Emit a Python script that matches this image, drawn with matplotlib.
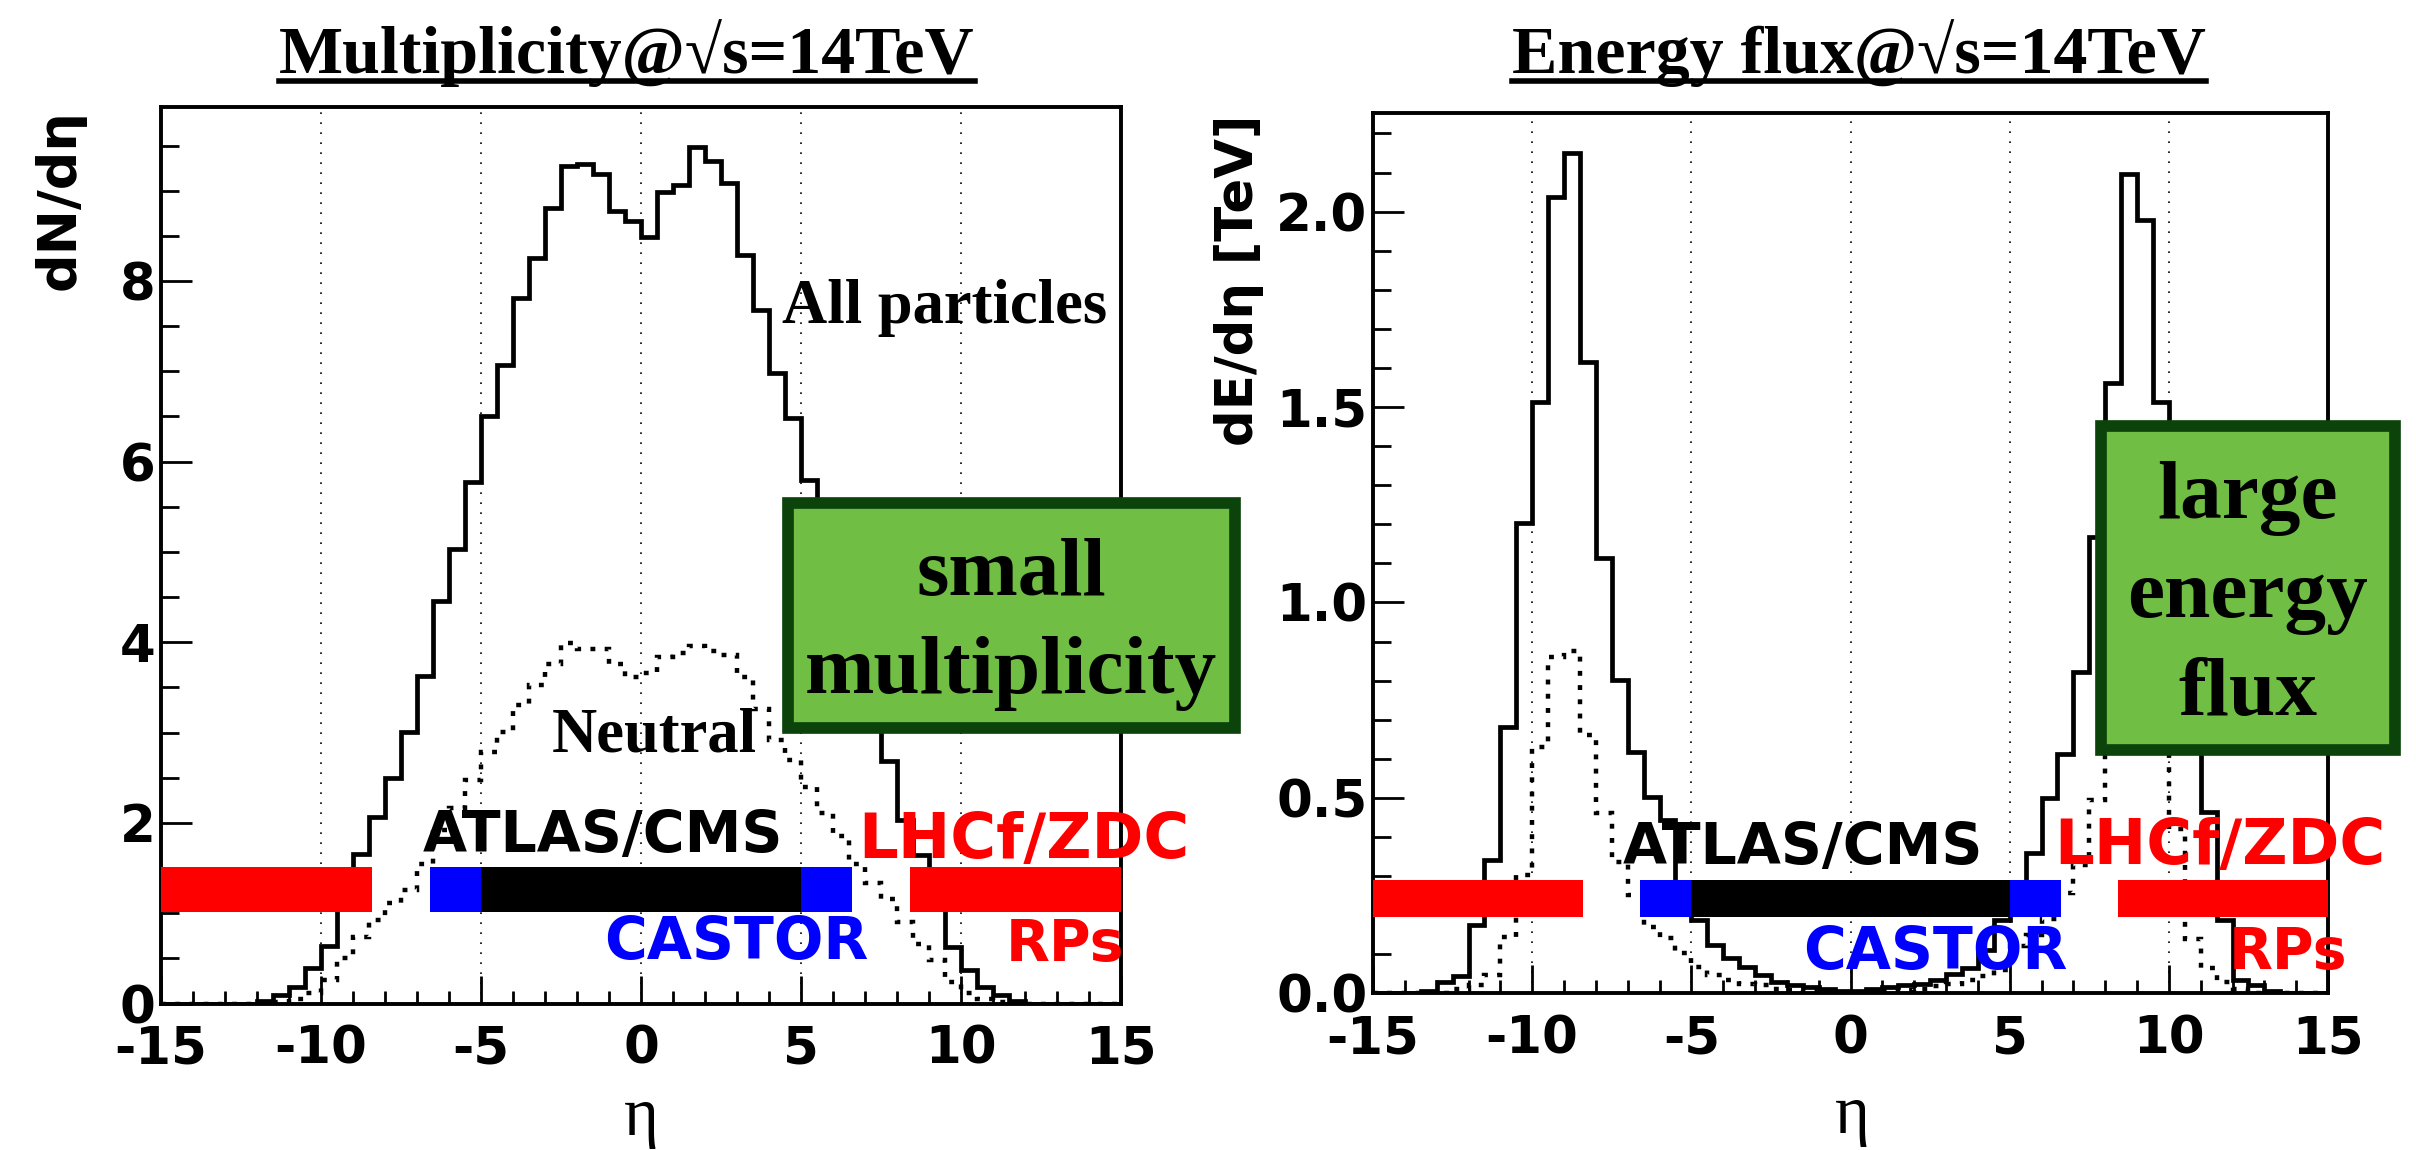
import matplotlib
matplotlib.use('Agg')
import matplotlib.pyplot as plt
import numpy as np
from matplotlib.patches import Rectangle
from matplotlib.lines import Line2D
from matplotlib.ticker import MultipleLocator, FormatStrFormatter

# eta binning: 60 bins of 0.5 from -15 to 15
eta_edges = np.linspace(-15, 15, 61)

# dN/deta, all particles and neutral (left panel), one value per bin
mult_all = [0, 0, 0, 0, 0, 0,
            0.03, 0.09, 0.18, 0.39, 0.64, 1.2, 1.66, 2.07, 2.50, 3.01, 3.63, 4.46, 5.03, 5.77,
            6.51, 7.07, 7.81, 8.26, 8.81, 9.27, 9.30, 9.19, 8.77, 8.66,
            8.49, 8.98, 9.06, 9.48, 9.33, 9.09, 8.29, 7.68, 6.98, 6.48,
            5.8, 5.2, 4.5, 3.8, 3.2, 2.68, 2.03, 1.64, 1.1, 0.63,
            0.37, 0.18, 0.09, 0.03, 0, 0, 0, 0, 0, 0]
mult_neutral = [0, 0, 0, 0, 0, 0, 0,
                0.02, 0.05, 0.12, 0.26, 0.50, 0.74, 0.92, 1.11, 1.26, 1.55, 1.92, 2.17, 2.48,
                2.79, 3.01, 3.31, 3.53, 3.76, 3.99, 3.93, 3.93, 3.76, 3.61,
                3.66, 3.84, 3.88, 3.96, 3.90, 3.86, 3.61, 3.26, 2.92, 2.70,
                2.40, 2.11, 1.85, 1.55, 1.33, 1.16, 0.90, 0.66, 0.48, 0.24,
                0.12, 0.05, 0.02, 0, 0, 0, 0, 0, 0, 0]

# dE/deta [TeV], all particles and neutral (right panel)
eflux_all = [0, 0, 0, 0.005, 0.030, 0.043, 0.175, 0.341, 0.682, 1.204,
             1.514, 2.037, 2.149, 1.614, 1.113, 0.802, 0.617, 0.503, 0.443, 0.27,
             0.188, 0.124, 0.090, 0.068, 0.047, 0.030, 0.021, 0.015, 0.010, 0.005,
             0.005, 0.010, 0.015, 0.020, 0.025, 0.035, 0.050, 0.064, 0.110, 0.188,
             0.25, 0.358, 0.499, 0.612, 0.823, 1.168, 1.562, 2.097, 1.979, 1.514,
             1.15, 0.70, 0.465, 0.188, 0.034, 0.020, 0.005, 0, 0, 0]
eflux_neutral = [0, 0, 0, 0, 0, 0.01, 0.02, 0.047, 0.145, 0.303,
                 0.631, 0.86, 0.875, 0.661, 0.461, 0.337, 0.252, 0.170, 0.141, 0.102,
                 0.068, 0.047, 0.035, 0.025, 0.020, 0.012, 0.008, 0.005, 0.003, 0.002,
                 0.002, 0.003, 0.005, 0.008, 0.012, 0.018, 0.025, 0.035, 0.045, 0.06,
                 0.12, 0.15, 0.19, 0.256, 0.328, 0.495, 0.68, 0.87, 0.86, 0.65,
                 0.42, 0.14, 0.064, 0.03, 0.01, 0, 0, 0, 0, 0]

# detector acceptance in eta
det_lo = np.array([-15, -6.6, -5, 5, 8.4])
det_hi = np.array([-8.4, -5, 5, 6.6, 15])
det_colors = ['red', 'blue', 'black', 'blue', 'red']

plt.rcParams['axes.unicode_minus'] = False
plt.rcParams['font.family'] = 'DejaVu Sans'
plt.rcParams['font.weight'] = 'bold'
serif = ['Liberation Serif', 'DejaVu Serif']

W, H = 2416, 1150
fig = plt.figure(figsize=(W / 100, H / 100), dpi=100)

ax1 = fig.add_axes([161 / W, 1 - 1003.5 / H, 960 / W, (1003.5 - 106.7) / H])
ax2 = fig.add_axes([1373 / W, 1 - 993.3 / H, 955 / W, (993.3 - 112.7) / H])


def style_axes(ax, ymax, ymajor, yminor, fmt):
    ax.set_xlim(-15, 15)
    ax.set_ylim(0, ymax)
    ax.xaxis.set_major_locator(MultipleLocator(5))
    ax.xaxis.set_minor_locator(MultipleLocator(1))
    ax.yaxis.set_major_locator(MultipleLocator(ymajor))
    ax.yaxis.set_minor_locator(MultipleLocator(yminor))
    ax.yaxis.set_major_formatter(FormatStrFormatter(fmt))
    ax.tick_params(which='both', direction='in', top=False, right=False,
                   width=2, labelsize=37)
    ax.tick_params(axis='x', which='major', length=20, pad=15)
    ax.tick_params(axis='x', which='minor', length=9.5)
    ax.tick_params(axis='y', which='major', length=22, pad=4)
    ax.tick_params(axis='y', which='minor', length=13)
    for s in ax.spines.values():
        s.set_linewidth(2.8)
    ax.grid(axis='x', which='major', color='black', lw=1.2, linestyle=(0, (1, 5)))


def draw_panel(ax, all_vals, neu_vals, bar_y0, bar_y1):
    ax.stairs(all_vals, eta_edges, color='black', lw=3.4, zorder=3)
    ax.stairs(neu_vals, eta_edges, color='black', lw=3.2, linestyle=(0, (1.1, 2.1)), zorder=3)
    ax.barh((bar_y0 + bar_y1) / 2, det_hi - det_lo, left=det_lo, height=bar_y1 - bar_y0,
            color=det_colors, lw=0, zorder=4)


style_axes(ax1, 9.93, 2, 0.5, '%d')
style_axes(ax2, 2.253, 0.5, 0.1, '%.1f')
draw_panel(ax1, mult_all, mult_neutral, 1.017, 1.515)
draw_panel(ax2, eflux_all, eflux_neutral, 0.196, 0.290)

# detector names
det_text = [('ATLAS/CMS', 'black', 41), ('CASTOR', 'blue', 42),
            ('LHCf/ZDC', 'red', 45), ('RPs', 'red', 41)]
pos1 = [(-1.2, 1.68), (2.97, 0.49), (11.95, 1.61), (13.25, 0.47)]
pos2 = [(-1.49, 0.331), (2.66, 0.062), (11.61, 0.331), (13.75, 0.062)]
for ax, pos in [(ax1, pos1), (ax2, pos2)]:
    for (txt, c, fs), (x, y) in zip(det_text, pos):
        ax.text(x, y, txt, color=c, fontsize=fs, ha='center', va='baseline',
                zorder=6, clip_on=False)

ax1.text(4.4, 7.54, 'All particles', fontsize=45, family=serif, weight='bold',
         va='baseline', zorder=5)
ax1.text(-2.8, 2.79, 'Neutral', fontsize=45, family=serif, weight='bold',
         va='baseline', zorder=5)

# green comment boxes
for x0, x1, y0, y1 in [(787.5, 1234.5, 502.5, 727.5), (2100.5, 2394.5, 426.5, 749.5)]:
    fig.add_artist(Rectangle((x0 / W, 1 - y1 / H), (x1 - x0) / W, (y1 - y0) / H,
                             transform=fig.transFigure, facecolor='#70BE44',
                             edgecolor='#0B430B', lw=8.4, zorder=10))
for xc, lines, bases in [(1011, ['small', 'multiplicity'], [595, 693]),
                         (2247.5, ['large', 'energy', 'flux'], [518, 617, 715])]:
    for line, b in zip(lines, bases):
        fig.text(xc / W, 1 - b / H, line, ha='center', va='baseline', fontsize=60,
                 family=serif, weight='bold', zorder=11)

# titles with underline
titles = []
for xc, txt in [(627, 'Multiplicity@√s=14TeV'), (1859, 'Energy flux@√s=14TeV')]:
    titles.append(fig.text(xc / W, 1 - 73 / H, txt, ha='center', va='baseline',
                           fontsize=49, family=serif, weight='bold'))

# axis labels
fig.text(60 / W, 1 - 109 / H, 'dN/dη', rotation=90, ha='center', va='top', fontsize=39)
fig.text(1239 / W, 1 - 115 / H, 'dE/dη [TeV]', rotation=90, ha='center', va='top', fontsize=37)
fig.text(641 / W, 1 - 1135 / H, 'η', ha='center', va='baseline', fontsize=48,
         family=serif, weight='normal')
fig.text(1852 / W, 1 - 1133 / H, 'η', ha='center', va='baseline', fontsize=48,
         family=serif, weight='normal')

fig.canvas.draw()
for t in titles:
    bb = t.get_window_extent()
    fig.add_artist(Line2D([bb.x0 / W, bb.x1 / W], [1 - 81 / H, 1 - 81 / H],
                          transform=fig.transFigure, color='black', lw=4))

fig.savefig('out.png', dpi=100)
